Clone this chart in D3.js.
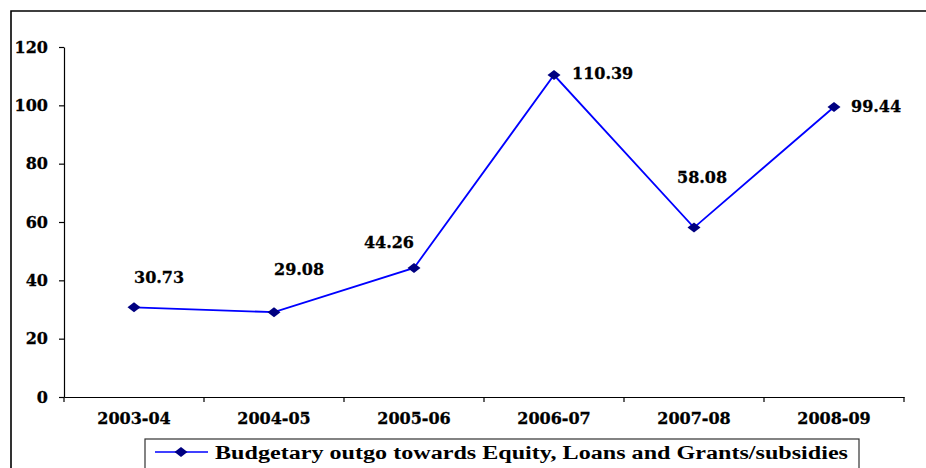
<!DOCTYPE html>
<html><head><meta charset="utf-8">
<script src="https://cdn.jsdelivr.net/npm/d3@7/dist/d3.min.js"></script>
<style>body{margin:0;background:#fff;}svg{display:block;}</style>
</head><body>
<script>
const categories = ["2003-04","2004-05","2005-06","2006-07","2007-08","2008-09"];
const values = [30.73, 29.08, 44.26, 110.39, 58.08, 99.44];
const yTicks = [0,20,40,60,80,100,120];
const seriesName = "Budgetary outgo towards Equity, Loans and Grants/subsidies";

const W = 926, H = 468;
const svg = d3.select("body").append("svg").attr("width", W).attr("height", H);

// outer frame
svg.append("path").attr("d", `M11,${H+5} L11,11 L${W+5},11`).attr("fill","none").attr("stroke","#000").attr("stroke-width",1.6);

const x = d3.scaleBand().domain(categories).range([64, 904]);
const y = d3.scaleLinear().domain([0,120]).range([397, 47]);

const numFont = "'DejaVu Serif', serif";

// y axis
const yAxis = svg.append("g").attr("transform","translate(64,0)")
  .call(d3.axisLeft(y).tickValues(yTicks).tickSize(5).tickSizeOuter(0).tickPadding(11));
yAxis.select(".domain").attr("stroke","#000").attr("stroke-width",1.2);
yAxis.selectAll(".tick line").attr("stroke","#000").attr("stroke-width",1.2);
yAxis.selectAll(".tick text").attr("font-family",numFont).attr("font-weight","bold").attr("font-size",16).attr("fill","#000");

// x axis
const xAxis = svg.append("g").attr("transform","translate(0,397)")
  .call(d3.axisBottom(x).tickSize(0).tickPadding(16));
xAxis.select(".domain").attr("stroke","#000").attr("stroke-width",1.2);
xAxis.selectAll(".tick text").attr("font-family",numFont).attr("font-weight","bold").attr("font-size",16).attr("fill","#000");
// boundary ticks
const bounds = categories.map(c => x(c)).concat([x.range()[1]]);
xAxis.selectAll(".btick").data(bounds).enter().append("line")
  .attr("x1",d=>d).attr("x2",d=>d).attr("y1",0).attr("y2",5)
  .attr("stroke","#000").attr("stroke-width",1.2);

const cx = c => x(c) + x.bandwidth()/2;
const pts = categories.map((c,i)=>({c, v: values[i]}));

svg.append("path").datum(pts)
  .attr("d", d3.line().x(d=>cx(d.c)).y(d=>y(d.v)))
  .attr("fill","none").attr("stroke","#0000FF").attr("stroke-width",1.8);

const diamond = "M0,-5 L6.5,0 L0,5 L-6.5,0 Z";
svg.selectAll(".mk").data(pts).enter().append("path")
  .attr("d", diamond).attr("transform", d=>`translate(${cx(d.c)},${y(d.v)})`)
  .attr("fill","#000080");

// data label layout (offsets relative to marker)
const labelLayout = [
  {dx:0, dy:-24, anchor:"start"},
  {dx:0, dy:-37, anchor:"start"},
  {dx:0, dy:-20, anchor:"end"},
  {dx:18, dy:4, anchor:"start"},
  {dx:-17, dy:-45, anchor:"start"},
  {dx:17, dy:5, anchor:"start"}
];
svg.selectAll(".lbl").data(pts).enter().append("text")
  .attr("x",(d,i)=>cx(d.c)+labelLayout[i].dx)
  .attr("y",(d,i)=>y(d.v)+labelLayout[i].dy)
  .attr("text-anchor",(d,i)=>labelLayout[i].anchor)
  .attr("font-family",numFont).attr("font-weight","bold").attr("font-size",16).attr("fill","#000")
  .attr("stroke","#000").attr("stroke-width",0.3)
  .text(d=>d.v.toFixed(2));
yAxis.selectAll(".tick text").attr("stroke","#000").attr("stroke-width",0.3);
xAxis.selectAll(".tick text").attr("stroke","#000").attr("stroke-width",0.3);

// legend
const lg = svg.append("g");
lg.append("rect").attr("x",145).attr("y",439).attr("width",714).attr("height",40)
  .attr("fill","#fff").attr("stroke","#333").attr("stroke-width",1.2);
lg.append("line").attr("x1",155).attr("x2",208).attr("y1",452).attr("y2",452)
  .attr("stroke","#0000FF").attr("stroke-width",1.6);
lg.append("path").attr("d",diamond).attr("transform","translate(181,452)").attr("fill","#000080");
lg.append("text").attr("x",215).attr("y",459)
  .attr("font-family","'Liberation Serif', 'Times New Roman', serif").attr("font-weight","bold").attr("font-size",18)
  .attr("textLength",633).attr("lengthAdjust","spacingAndGlyphs").attr("fill","#000")
  .text(seriesName);
</script>
</body></html>
